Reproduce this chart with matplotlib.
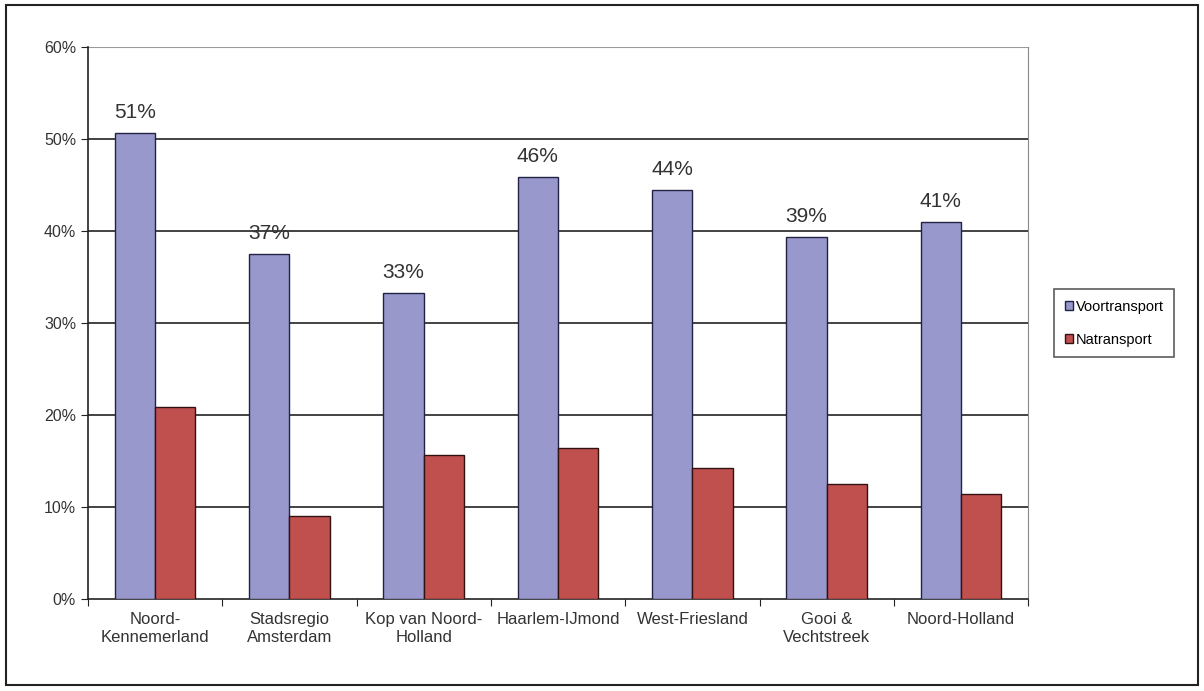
import matplotlib
matplotlib.use("Agg")
import matplotlib.pyplot as plt
from matplotlib.patches import Rectangle
import numpy as np

plt.rcParams['font.family'] = ['Liberation Sans', 'DejaVu Sans']

categories = ["Noord-\nKennemerland", "Stadsregio\nAmsterdam", "Kop van Noord-\nHolland",
              "Haarlem-IJmond", "West-Friesland", "Gooi &\nVechtstreek", "Noord-Holland"]
voortransport = [50.6, 37.5, 33.3, 45.9, 44.5, 39.3, 41.0]
natransport = [20.9, 9.0, 15.7, 16.4, 14.2, 12.5, 11.4]
voor_labels = ["51%", "37%", "33%", "46%", "44%", "39%", "41%"]
yticks = [0, 10, 20, 30, 40, 50, 60]
ytick_labels = ["0%", "10%", "20%", "30%", "40%", "50%", "60%"]

fig = plt.figure(figsize=(12.04, 6.91), dpi=100)
fig.patches.append(Rectangle((0.005, 0.008), 0.99, 0.985, transform=fig.transFigure,
                             fill=False, edgecolor='#222222', linewidth=1.5))
ax = fig.add_axes([0.073, 0.133, 0.781, 0.799])

x = np.arange(len(categories))
w = 0.3
ax.bar(x - w/2, voortransport, width=w, color='#9898CC', edgecolor='#222244', linewidth=1, label='Voortransport', zorder=3)
ax.bar(x + w/2, natransport, width=w, color='#C0504D', edgecolor='#331111', linewidth=1, label='Natransport', zorder=3)

for xi, v, lab in zip(x, voortransport, voor_labels):
    ax.text(xi - w/2, v + 1.2, lab, ha='center', va='bottom', fontsize=15, color='#333333')

ax.set_xlim(-0.5, len(categories) - 0.5)
ax.set_ylim(0, 60)
ax.set_yticks(yticks)
ax.set_yticklabels(ytick_labels, fontsize=11.5, color='#333333')
for t in yticks[1:-1]:
    ax.axhline(t, color='#222222', linewidth=1.2, zorder=1)
ax.axhline(60, color='#999999', linewidth=1.5, zorder=1)

ax.set_xticks(np.arange(len(categories) + 1) - 0.5, minor=False)
ax.set_xticklabels([])
ax.set_xticks(x, minor=True)
ax.set_xticklabels(categories, minor=True, fontsize=12, color='#333333', linespacing=1.3)
ax.tick_params(axis='x', which='minor', length=0, pad=9)
ax.tick_params(axis='x', which='major', length=5, color='#222222')
ax.tick_params(axis='y', length=5, color='#222222')

for s in ['top']:
    ax.spines[s].set_visible(False)
ax.spines['right'].set_color('#888888')
ax.spines['left'].set_color('#222222')
ax.spines['bottom'].set_color('#222222')
ax.spines['left'].set_linewidth(1.2)
ax.spines['bottom'].set_linewidth(1.2)

leg = ax.legend(loc='center left', bbox_to_anchor=(1.02, 0.5), fontsize=10.5, frameon=True,
                fancybox=False, edgecolor='#333333', handlelength=0.6, handleheight=0.6,
                handletextpad=0.2, labelspacing=1.3, borderpad=0.7)
leg.get_frame().set_linewidth(1.2)

fig.savefig("out.png", dpi=100)
